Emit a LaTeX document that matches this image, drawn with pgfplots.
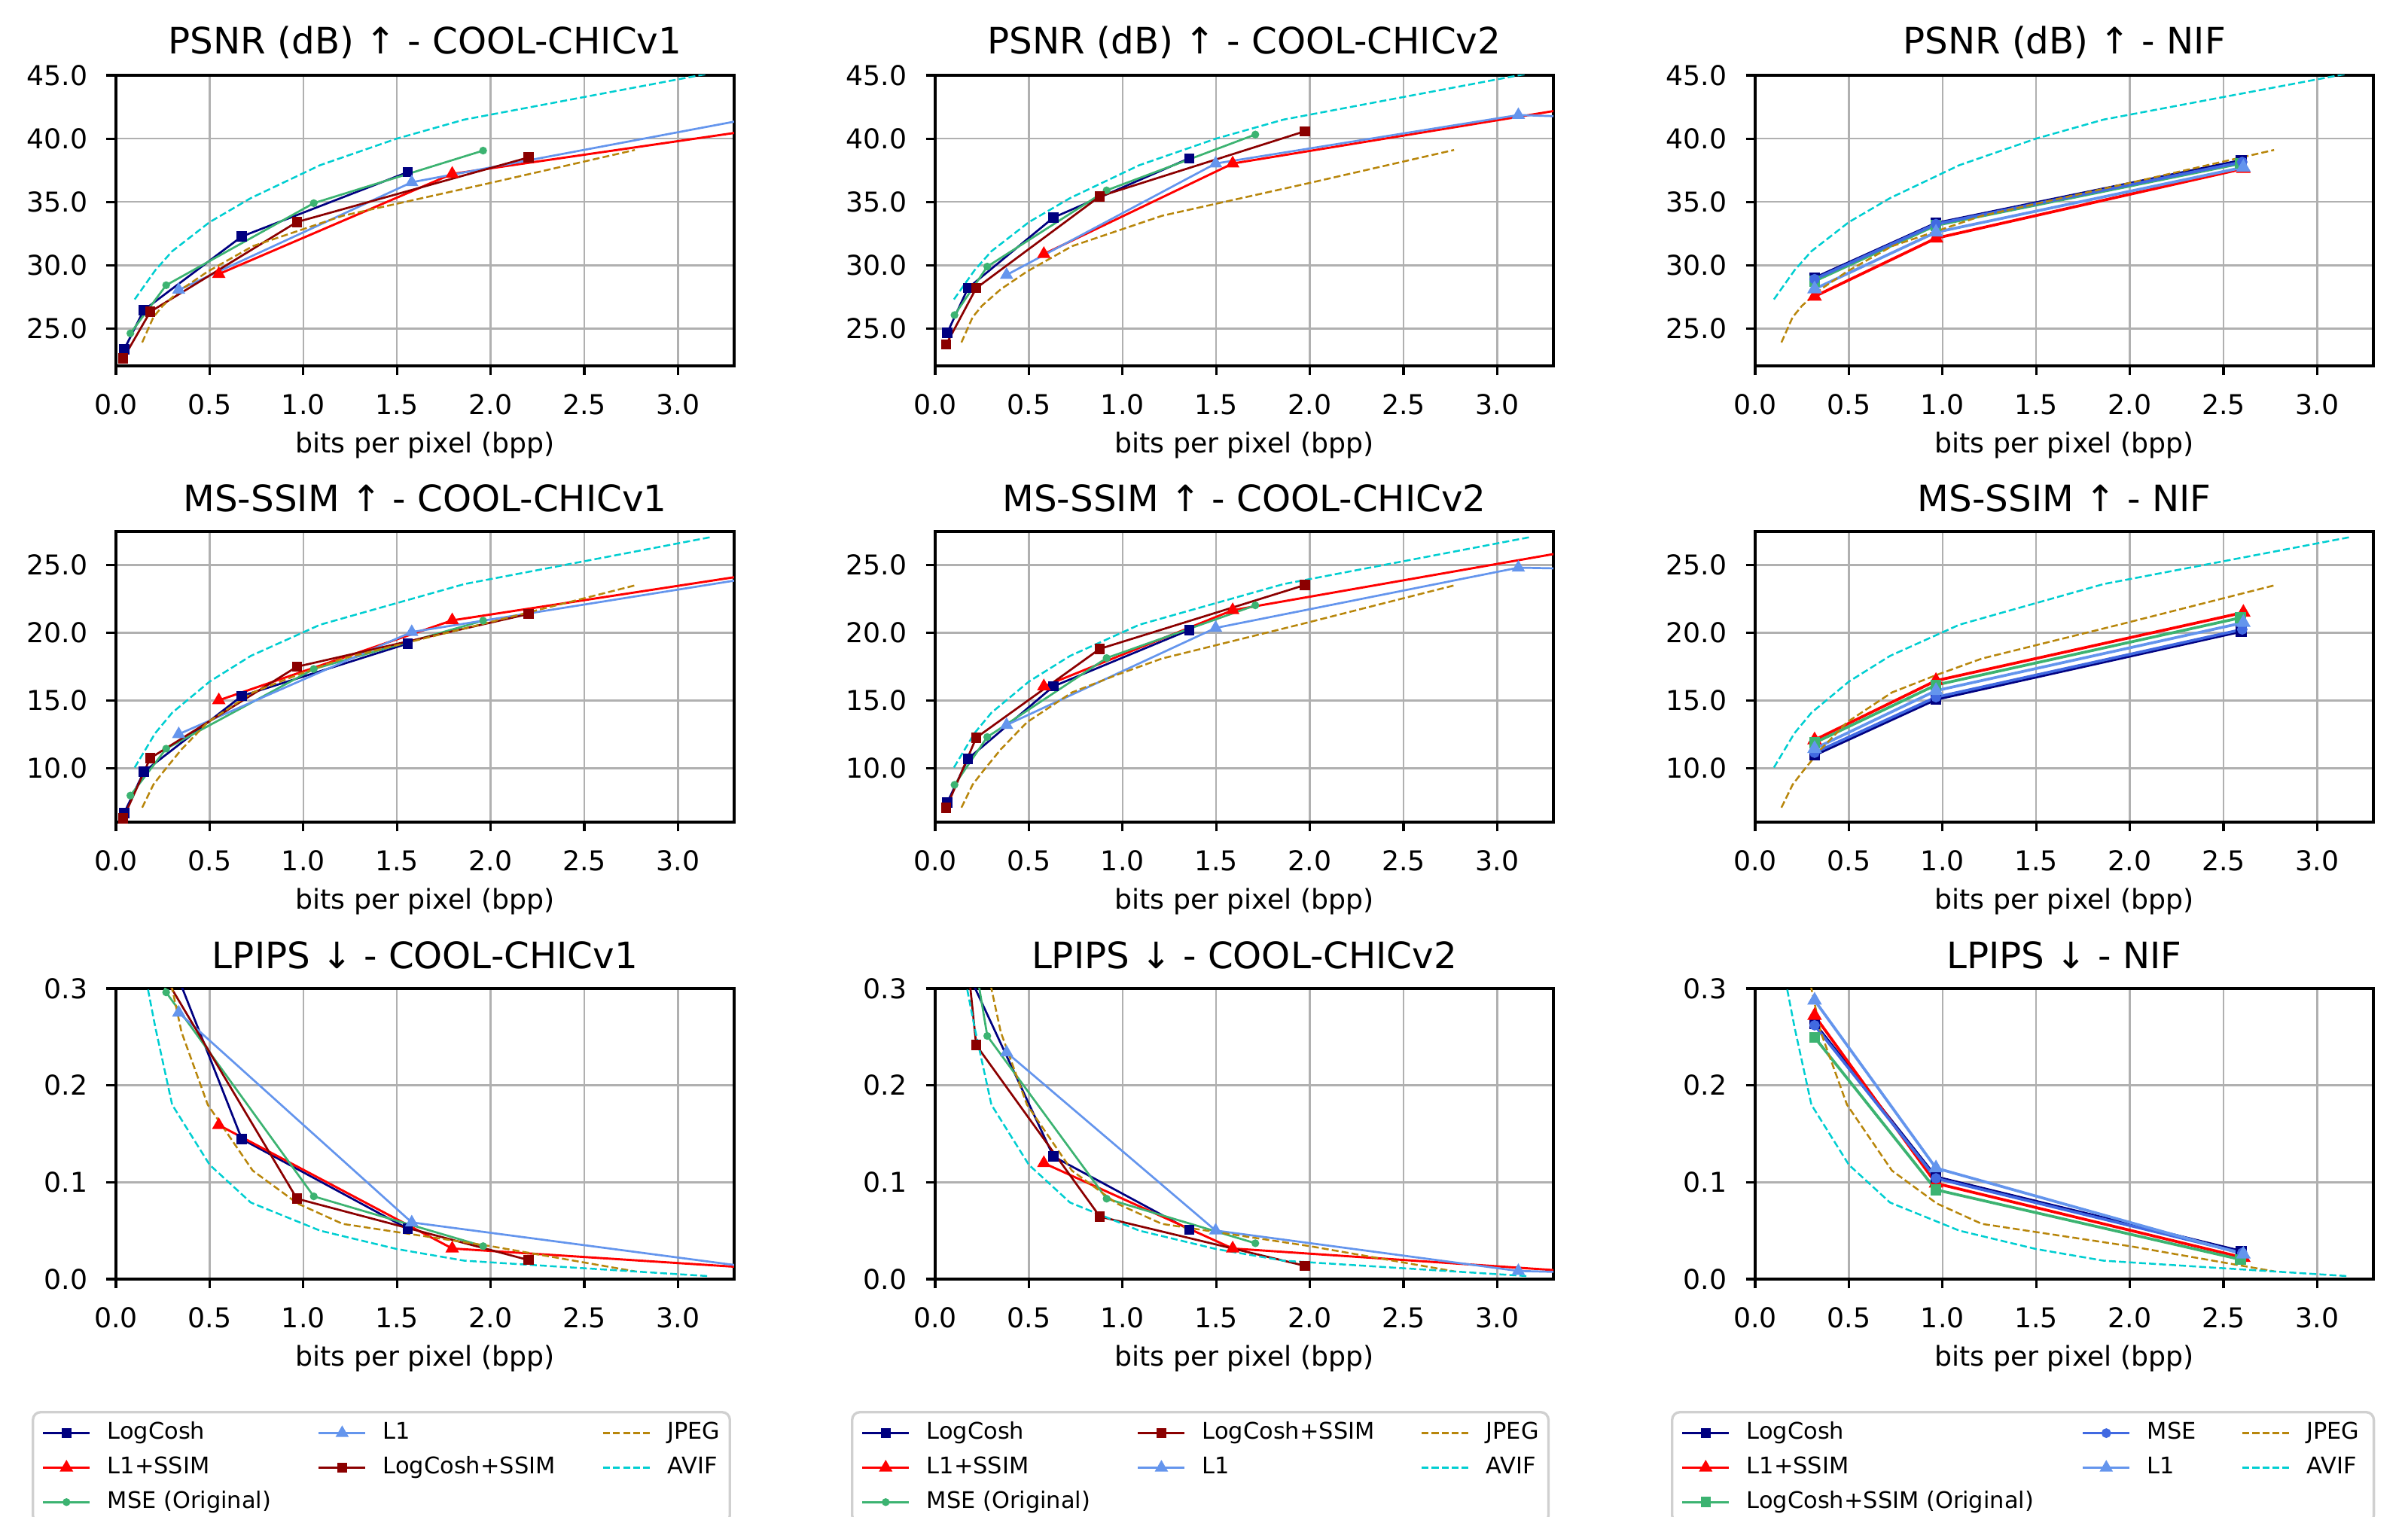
\documentclass[border=0pt]{standalone}
\usepackage{fontspec}
\setmainfont{DejaVu Sans}
\usepackage{pgfplots}
\pgfplotsset{compat=1.18}

\definecolor{cNavy}{HTML}{000080}
\definecolor{cRed}{HTML}{FF0000}
\definecolor{cGreen}{HTML}{3CB371}
\definecolor{cCorn}{HTML}{6495ED}
\definecolor{cDRed}{HTML}{8B0000}
\definecolor{cGold}{HTML}{B8860B}
\definecolor{cTurq}{HTML}{00CED1}
\definecolor{cRoyal}{HTML}{4169E1}
\definecolor{cGrid}{HTML}{B0B0B0}
\definecolor{cLeg}{HTML}{D0D0D0}

\pgfplotsset{
  sLC/.style={color=cNavy, line width=0.65pt, mark=square*, mark size=1.3pt},
  sL1S/.style={color=cRed, line width=0.7pt, mark=triangle*, mark size=1.8pt},
  sMSEO/.style={color=cGreen, line width=0.65pt, mark=*, mark size=0.9pt},
  sL1/.style={color=cCorn, line width=0.65pt, mark=triangle*, mark size=1.8pt},
  sLCS/.style={color=cDRed, line width=0.65pt, mark=square*, mark size=1.3pt},
  sLCSO/.style={color=cGreen, line width=0.65pt, mark=square*, mark size=1.3pt},
  sMSE/.style={color=cRoyal, line width=0.65pt, mark=*, mark size=1.2pt},
  sJPEG/.style={color=cGold, line width=0.6pt, dash pattern=on 2.2pt off 1pt, no marks},
  sAVIF/.style={color=cTurq, line width=0.6pt, dash pattern=on 2.2pt off 1pt, no marks},
  nif/.style={line width=0.9pt},
  legend image code/.code={\draw[sharp corners, mark repeat=2, mark phase=2, #1]
    plot coordinates {(0pt,0pt) (7.45pt,0pt) (14.9pt,0pt)};},
  panel/.style={
    scale only axis, width=197.04pt, height=92.64pt,
    anchor=south west,
    xmin=0, xmax=3.3, xtick={0,0.5,1,1.5,2,2.5,3},
    scaled ticks=false,
    grid=major, major grid style={cGrid, line width=0.6pt},
    axis line style={line width=0.75pt},
    tick align=outside, tick pos=left, major tick length=3pt,
    every tick/.style={black, line width=0.75pt},
    tick label style={font=\fontsize{8.7}{10}\selectfont},
    /pgf/number format/fixed, /pgf/number format/fixed zerofill,
    /pgf/number format/precision=1, /pgf/number format/assume math mode=true,
    xticklabel style={yshift=-2.5pt},
    yticklabel style={xshift=-2.5pt},
    xlabel={bits per pixel (bpp)},
    xlabel style={font=\fontsize{8.7}{10}\selectfont, at={(axis description cs:0.5,-0.274)}, anchor=center},
    title style={font=\fontsize{11.6}{13}\selectfont, at={(axis description cs:0.5,1.049)}, anchor=center},
  },
  psnr/.style={panel, ymin=22.05, ymax=45, ytick={25,30,35,40,45}},
  msssim/.style={panel, ymin=6.03, ymax=27.48, ytick={10,15,20,25}},
  lpips/.style={panel, ymin=0, ymax=0.3, ytick={0,0.1,0.2,0.3}},
  leg/.style={
    legend columns=3,
    legend style={font=\fontsize{7.3}{8}\selectfont, draw=cLeg, line width=0.8pt,
      rounded corners=2.5pt, fill=white, inner xsep=2.9pt, inner ysep=3.1pt,
      at={(-0.1364,-0.4534)}, anchor=north west, row sep=3.8pt,
      nodes={inner sep=0pt, text height=5.5pt, text depth=1.7pt},
      /tikz/every odd column/.style={column sep=5.3pt},
      /tikz/every even column/.style={column sep=0pt}},
  },
}

\begin{document}
\begin{tikzpicture}
\useasboundingbox (0,0) rectangle (767.52pt,483.6pt);
\clip (0,0) rectangle (767.52pt,483.6pt);

% ---------------- row 1: PSNR ----------------
\begin{axis}[psnr, at={(36.96pt,366.96pt)}, title={PSNR (dB) ↑ - COOL-CHICv1}]
\addplot[sLC] coordinates {(0.044,23.35) (0.149,26.46) (0.672,32.27) (1.558,37.35)};
\addplot[sL1S] coordinates {(0.549,29.30) (1.795,37.21) (3.7,41.30)};
\addplot[sMSEO] coordinates {(0.077,24.62) (0.268,28.42) (1.056,34.90) (1.960,39.05)};
\addplot[sL1] coordinates {(0.335,28.05) (1.579,36.55) (3.5,41.89)};
\addplot[sLCS] coordinates {(0.039,22.64) (0.183,26.32) (0.966,33.41) (2.202,38.51)};
\addplot[sJPEG] coordinates {(0.14,23.9) (0.20,25.9) (0.25,26.8) (0.35,28.1) (0.49,29.5) (0.73,31.5) (0.97,32.7) (1.21,33.9) (2.0,36.5) (2.77,39.1)};
\addplot[sAVIF] coordinates {(0.10,27.3) (0.21,29.6) (0.30,31.1) (0.50,33.4) (0.72,35.3) (1.09,37.9) (1.50,40.0) (1.86,41.5) (3.17,45.15)};
\end{axis}

\begin{axis}[psnr, at={(298.08pt,366.96pt)}, title={PSNR (dB) ↑ - COOL-CHICv2}]
\addplot[sLC] coordinates {(0.064,24.65) (0.175,28.19) (0.631,33.76) (1.356,38.44)};
\addplot[sL1S] coordinates {(0.580,30.88) (1.588,38.03) (3.7,43.14)};
\addplot[sMSEO] coordinates {(0.103,26.06) (0.278,29.89) (0.915,35.91) (1.709,40.32)};
\addplot[sLCS] coordinates {(0.059,23.75) (0.219,28.19) (0.879,35.44) (1.974,40.58)};
\addplot[sL1] coordinates {(0.381,29.23) (1.497,38.03) (3.113,41.86) (3.7,41.58)};
\addplot[sJPEG] coordinates {(0.14,23.9) (0.20,25.9) (0.25,26.8) (0.35,28.1) (0.49,29.5) (0.73,31.5) (0.97,32.7) (1.21,33.9) (2.0,36.5) (2.77,39.1)};
\addplot[sAVIF] coordinates {(0.10,27.3) (0.21,29.6) (0.30,31.1) (0.50,33.4) (0.72,35.3) (1.09,37.9) (1.50,40.0) (1.86,41.5) (3.17,45.15)};
\end{axis}

\begin{axis}[psnr, at={(559.44pt,366.96pt)}, title={PSNR (dB) ↑ - NIF}]
\addplot[sLC, nif] coordinates {(0.317,28.99) (0.965,33.31) (2.595,38.27)};
\addplot[sL1S, nif] coordinates {(0.317,27.53) (0.965,32.13) (2.606,37.63)};
\addplot[sLCSO, nif] coordinates {(0.317,28.75) (0.965,33.15) (2.590,38.03)};
\addplot[sMSE, nif] coordinates {(0.317,28.90) (0.965,33.25) (2.600,38.15)};
\addplot[sL1, nif] coordinates {(0.317,28.12) (0.965,32.60) (2.606,37.73)};
\addplot[sJPEG] coordinates {(0.14,23.9) (0.20,25.9) (0.25,26.8) (0.35,28.1) (0.49,29.5) (0.73,31.5) (0.97,32.7) (1.21,33.9) (2.0,36.5) (2.77,39.1)};
\addplot[sAVIF] coordinates {(0.10,27.3) (0.21,29.6) (0.30,31.1) (0.50,33.4) (0.72,35.3) (1.09,37.9) (1.50,40.0) (1.86,41.5) (3.17,45.15)};
\end{axis}

% ---------------- row 2: MS-SSIM ----------------
\begin{axis}[msssim, at={(36.96pt,221.52pt)}, title={MS-SSIM ↑ - COOL-CHICv1}]
\addplot[sLC] coordinates {(0.044,6.71) (0.149,9.74) (0.672,15.34) (1.558,19.21)};
\addplot[sL1S] coordinates {(0.549,15.02) (1.795,20.92) (3.7,24.95)};
\addplot[sMSEO] coordinates {(0.077,7.99) (0.268,11.45) (1.056,17.33) (1.960,20.90)};
\addplot[sL1] coordinates {(0.335,12.52) (1.579,20.06) (3.5,24.29)};
\addplot[sLCS] coordinates {(0.039,6.32) (0.183,10.75) (0.966,17.50) (2.202,21.39)};
\addplot[sJPEG] coordinates {(0.14,7.1) (0.20,8.8) (0.25,9.7) (0.35,11.4) (0.49,13.4) (0.73,15.6) (0.97,16.9) (1.21,18.1) (2.0,20.8) (2.77,23.5)};
\addplot[sAVIF] coordinates {(0.10,10.06) (0.21,12.6) (0.30,14.1) (0.50,16.4) (0.72,18.3) (1.09,20.6) (1.50,22.2) (1.86,23.6) (3.17,27.05)};
\end{axis}

\begin{axis}[msssim, at={(298.08pt,221.52pt)}, title={MS-SSIM ↑ - COOL-CHICv2}]
\addplot[sLC] coordinates {(0.064,7.46) (0.175,10.70) (0.631,16.05) (1.356,20.21)};
\addplot[sL1S] coordinates {(0.580,16.05) (1.588,21.67) (3.7,26.78)};
\addplot[sMSEO] coordinates {(0.103,8.78) (0.278,12.31) (0.915,18.14) (1.709,22.03)};
\addplot[sLCS] coordinates {(0.059,7.07) (0.219,12.26) (0.879,18.82) (1.974,23.53)};
\addplot[sL1] coordinates {(0.381,13.20) (1.497,20.36) (3.113,24.81) (3.7,24.65)};
\addplot[sJPEG] coordinates {(0.14,7.1) (0.20,8.8) (0.25,9.7) (0.35,11.4) (0.49,13.4) (0.73,15.6) (0.97,16.9) (1.21,18.1) (2.0,20.8) (2.77,23.5)};
\addplot[sAVIF] coordinates {(0.10,10.06) (0.21,12.6) (0.30,14.1) (0.50,16.4) (0.72,18.3) (1.09,20.6) (1.50,22.2) (1.86,23.6) (3.17,27.05)};
\end{axis}

\begin{axis}[msssim, at={(559.44pt,221.52pt)}, title={MS-SSIM ↑ - NIF}]
\addplot[sLC, nif] coordinates {(0.317,10.98) (0.965,15.09) (2.595,20.11)};
\addplot[sL1S, nif] coordinates {(0.317,12.09) (0.965,16.47) (2.606,21.50)};
\addplot[sLCSO, nif] coordinates {(0.317,11.88) (0.965,16.15) (2.590,21.11)};
\addplot[sMSE, nif] coordinates {(0.317,11.15) (0.965,15.25) (2.600,20.25)};
\addplot[sL1, nif] coordinates {(0.317,11.45) (0.965,15.73) (2.606,20.75)};
\addplot[sJPEG] coordinates {(0.14,7.1) (0.20,8.8) (0.25,9.7) (0.35,11.4) (0.49,13.4) (0.73,15.6) (0.97,16.9) (1.21,18.1) (2.0,20.8) (2.77,23.5)};
\addplot[sAVIF] coordinates {(0.10,10.06) (0.21,12.6) (0.30,14.1) (0.50,16.4) (0.72,18.3) (1.09,20.6) (1.50,22.2) (1.86,23.6) (3.17,27.05)};
\end{axis}

% ---------------- row 3: LPIPS + legends ----------------
\begin{axis}[lpips, leg, at={(36.96pt,75.84pt)}, title={LPIPS ↓ - COOL-CHICv1}]
\addplot[sLC, forget plot] coordinates {(0.044,0.55) (0.149,0.401) (0.672,0.1445) (1.558,0.052)};
\addplot[sL1S, forget plot] coordinates {(0.549,0.159) (1.795,0.0316) (3.7,0.0078)};
\addplot[sMSEO, forget plot] coordinates {(0.077,0.45) (0.268,0.296) (1.056,0.0854) (1.960,0.034)};
\addplot[sL1, forget plot] coordinates {(0.335,0.275) (1.579,0.0585) (3.5,0.0095)};
\addplot[sLCS, forget plot] coordinates {(0.039,0.55) (0.183,0.337) (0.966,0.083) (2.202,0.0197)};
\addplot[sJPEG, forget plot] coordinates {(0.14,0.55) (0.20,0.45) (0.25,0.345) (0.35,0.255) (0.49,0.18) (0.73,0.112) (0.97,0.078) (1.21,0.057) (2.0,0.034) (2.77,0.008)};
\addplot[sAVIF, forget plot] coordinates {(0.10,0.37) (0.21,0.26) (0.30,0.18) (0.50,0.118) (0.72,0.079) (1.09,0.05) (1.50,0.031) (1.86,0.019) (3.17,0.003)};
\addlegendimage{sLC}\addlegendentry{\makebox[67pt][l]{LogCosh}}
\addlegendimage{sL1}\addlegendentry{\makebox[69.8pt][l]{L1}}
\addlegendimage{sJPEG}\addlegendentry{\makebox[17pt][l]{JPEG}}
\addlegendimage{sL1S}\addlegendentry{\makebox[67pt][l]{L1+SSIM}}
\addlegendimage{sLCS}\addlegendentry{\makebox[69.8pt][l]{LogCosh+SSIM}}
\addlegendimage{sAVIF}\addlegendentry{\makebox[17pt][l]{AVIF}}
\addlegendimage{sMSEO}\addlegendentry{\makebox[67pt][l]{MSE (Original)}}
\end{axis}

\begin{axis}[lpips, leg, at={(298.08pt,75.84pt)}, title={LPIPS ↓ - COOL-CHICv2}]
\addplot[sLC, forget plot] coordinates {(0.064,0.45) (0.175,0.316) (0.631,0.1266) (1.356,0.051)};
\addplot[sL1S, forget plot] coordinates {(0.580,0.1197) (1.588,0.0316) (3.7,0.0041)};
\addplot[sMSEO, forget plot] coordinates {(0.103,0.454) (0.278,0.251) (0.915,0.083) (1.709,0.037)};
\addplot[sLCS, forget plot] coordinates {(0.059,0.543) (0.219,0.2415) (0.879,0.0645) (1.974,0.0137)};
\addplot[sL1, forget plot] coordinates {(0.381,0.234) (1.497,0.0501) (3.113,0.0084) (3.7,0.0055)};
\addplot[sJPEG, forget plot] coordinates {(0.14,0.55) (0.20,0.45) (0.25,0.345) (0.35,0.255) (0.49,0.18) (0.73,0.112) (0.97,0.078) (1.21,0.057) (2.0,0.034) (2.77,0.008)};
\addplot[sAVIF, forget plot] coordinates {(0.10,0.37) (0.21,0.26) (0.30,0.18) (0.50,0.118) (0.72,0.079) (1.09,0.05) (1.50,0.031) (1.86,0.019) (3.17,0.003)};
\addlegendimage{sLC}\addlegendentry{\makebox[67pt][l]{LogCosh}}
\addlegendimage{sLCS}\addlegendentry{\makebox[69.6pt][l]{LogCosh+SSIM}}
\addlegendimage{sJPEG}\addlegendentry{\makebox[17pt][l]{JPEG}}
\addlegendimage{sL1S}\addlegendentry{\makebox[67pt][l]{L1+SSIM}}
\addlegendimage{sL1}\addlegendentry{\makebox[69.6pt][l]{L1}}
\addlegendimage{sAVIF}\addlegendentry{\makebox[17pt][l]{AVIF}}
\addlegendimage{sMSEO}\addlegendentry{\makebox[67pt][l]{MSE (Original)}}
\end{axis}

\begin{axis}[lpips, leg, at={(559.44pt,75.84pt)}, title={LPIPS ↓ - NIF}]
\addplot[sLC, nif, forget plot] coordinates {(0.317,0.264) (0.965,0.1054) (2.595,0.0287)};
\addplot[sL1S, nif, forget plot] coordinates {(0.317,0.272) (0.965,0.0988) (2.606,0.0221)};
\addplot[sLCSO, nif, forget plot] coordinates {(0.317,0.2496) (0.965,0.0922) (2.590,0.0203)};
\addplot[sMSE, nif, forget plot] coordinates {(0.317,0.262) (0.965,0.104) (2.600,0.027)};
\addplot[sL1, nif, forget plot] coordinates {(0.317,0.2878) (0.965,0.1146) (2.606,0.0257)};
\addplot[sJPEG, forget plot] coordinates {(0.14,0.55) (0.20,0.45) (0.25,0.345) (0.35,0.255) (0.49,0.18) (0.73,0.112) (0.97,0.078) (1.21,0.057) (2.0,0.034) (2.77,0.008)};
\addplot[sAVIF, forget plot] coordinates {(0.10,0.37) (0.21,0.26) (0.30,0.18) (0.50,0.118) (0.72,0.079) (1.09,0.05) (1.50,0.031) (1.86,0.019) (3.17,0.003)};
\addlegendimage{sLC}\addlegendentry{\makebox[106.8pt][l]{LogCosh}}
\addlegendimage{sMSE}\addlegendentry{\makebox[30pt][l]{MSE}}
\addlegendimage{sJPEG}\addlegendentry{\makebox[18.5pt][l]{JPEG}}
\addlegendimage{sL1S}\addlegendentry{\makebox[106.8pt][l]{L1+SSIM}}
\addlegendimage{sL1}\addlegendentry{\makebox[30pt][l]{L1}}
\addlegendimage{sAVIF}\addlegendentry{\makebox[18.5pt][l]{AVIF}}
\addlegendimage{sLCSO}\addlegendentry{\makebox[106.8pt][l]{LogCosh+SSIM (Original)}}
\end{axis}
\end{tikzpicture}
\end{document}
